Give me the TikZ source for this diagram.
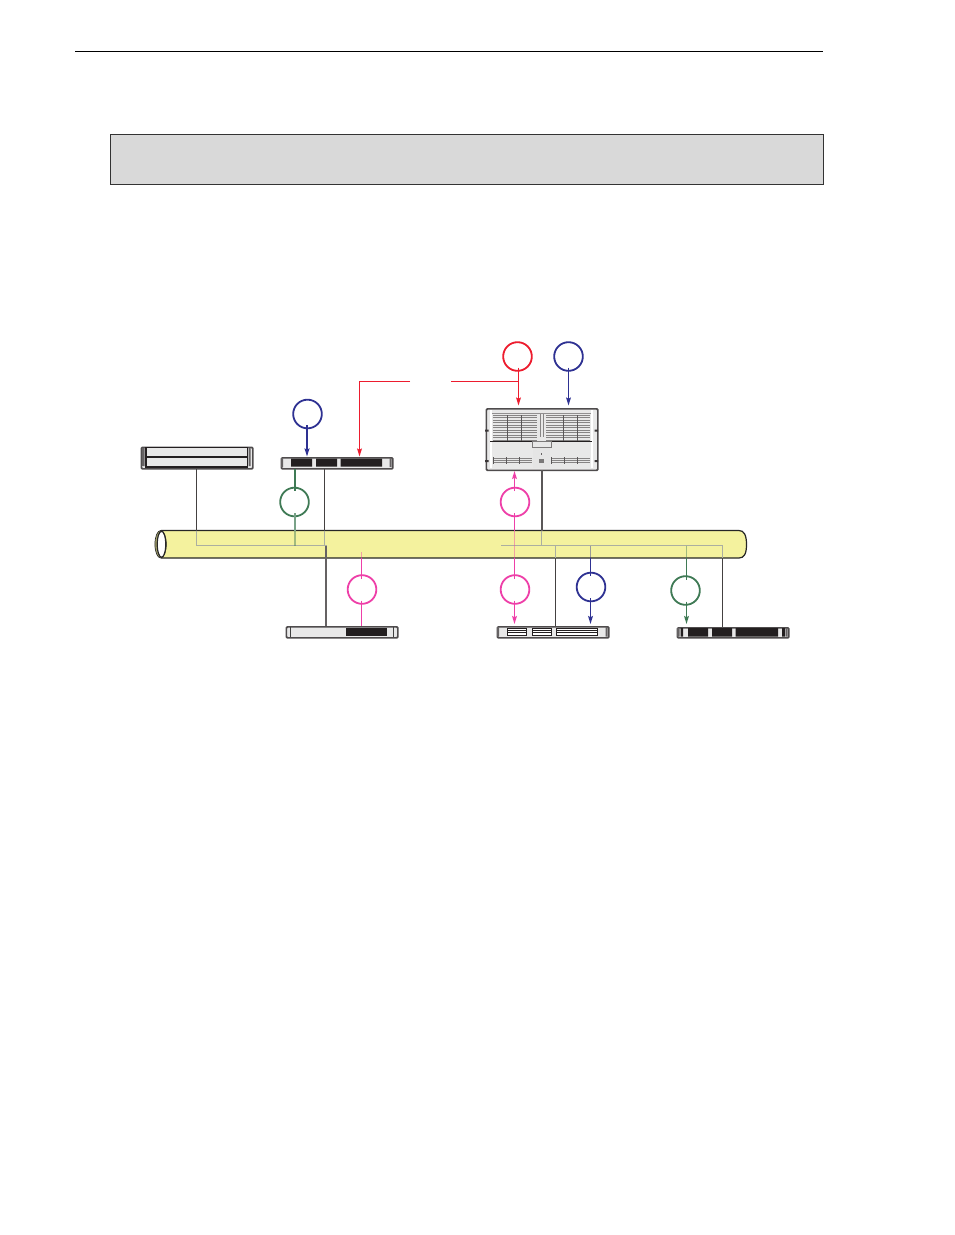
\documentclass[tikz,border=0pt]{standalone}
\usetikzlibrary{arrows.meta,shapes.geometric}
\definecolor{pipeY}{HTML}{F4F29E}
\definecolor{panelG}{HTML}{D9D9D9}
\definecolor{rackG}{HTML}{E8E8E8}
\definecolor{rackD}{HTML}{231F20}
\definecolor{redL}{HTML}{ED1C2E}
\definecolor{blueL}{HTML}{2E3192}
\definecolor{greenL}{HTML}{3F7A55}
\definecolor{pinkL}{HTML}{EE3FA8}
\definecolor{busG}{HTML}{ABAFA0}
\tikzset{
  x=0.75pt,y=-0.75pt,
  circ/.style={draw=#1,circle,line width=1.35pt,minimum size=21.5pt,inner sep=0pt,fill=white},
  wire/.style={draw=#1,line width=0.95pt},
  head/.style={wire=#1,-{Stealth[length=6pt,width=3.6pt,inset=1pt]}},
  rackbody/.style={draw=rackD!80,fill=rackG,line width=1.3pt,rounded corners=0.8pt,rectangle,inner sep=0pt,anchor=north west},
  dk/.style={draw=rackD!85,line width=1.05pt},
  ghost/.style={line width=0.95pt,draw=#1,opacity=0.45},
  bus/.style={draw=busG,line width=1pt},
  block/.style={fill=rackD,draw=none},
  thinline/.style={draw=black!75,line width=0.3pt},
}
\newcommand{\rackbox}[5]{% name x y w h
  \node[rackbody,minimum width=#4*0.75pt,minimum height=#5*0.75pt] (#1) at (#2,#3) {};
}
\begin{document}
\begin{tikzpicture}
\useasboundingbox (0,0) rectangle (954,1235);
\fill[white] (0,0) rectangle (954,1235);
\coordinate (ruleL) at (75,51.5); \coordinate (ruleR) at (823,51.5);
\draw[black,line width=0.6pt] (ruleL) -- (ruleR);
\node[draw=black!80,fill=panelG,line width=0.6pt,minimum width=712.8*0.75pt,minimum height=50*0.75pt,inner sep=0pt,anchor=north west] (panel) at (110,134) {};

% pipe
\path[fill=pipeY,draw=black!85,line width=0.9pt] (161,530.5) -- (739,530.5) .. controls (744,530.5) and (746.5,535) .. (746.5,544.5) .. controls (746.5,554) and (744,558) .. (739,558) -- (161,558);
\node[draw=black!85,fill=pipeY!70!black,ellipse,line width=0.5pt,minimum width=8.5pt,minimum height=20.6pt,inner sep=0pt] (pipeRim) at (160.6,544.25) {};
\node[draw=black!85,fill=white,ellipse,line width=0.9pt,minimum width=6.5pt,minimum height=19.5pt,inner sep=0pt] (pipeEnd) at (161.5,544.25) {};

% devices
\rackbox{rackA}{140.5}{446.5}{111.5}{21.5}
\rackbox{rackB}{280.5}{457}{111.5}{11}
\rackbox{rackC}{285.5}{626}{111.5}{11}
\rackbox{rackD}{496.5}{626}{111.5}{11}
\rackbox{rackE}{676.5}{627}{111.5}{10}
\rackbox{chassis}{485.5}{408}{111.5}{61.5}

% rack A details
\draw[rackD,line width=1.1pt,fill=rackG] (146,447.5) rectangle (247.5,467);
\draw[rackD,line width=1.1pt] (146,457) -- (247.5,457);
\fill[rackD!70] (142,448) rectangle (144.5,466) (248.5,448) rectangle (250.5,466);
% rack B details
\fill[rackD!70] (281,458) rectangle (283,467) (389.5,458) rectangle (391.5,467);
\fill[block] (291,458.5) rectangle (312,466.5) (316,458.5) rectangle (337,466.5) (340.5,458.5) rectangle (382,466.5);
% rack C details
\draw[thinline] (290,626.5) -- (290,636.5);
\fill[block] (346,627.5) rectangle (387,635.5);
\draw[thinline] (393,626.5) -- (393,636.5);
% rack D details
\fill[rackD!70] (497,627) rectangle (499,636.5) (605.5,627) rectangle (607.5,636.5);
\foreach \a/\b in {507/527,532/552,556/598}{
  \fill[rackD] (\a,627.5) rectangle (\b,635.5);
  \foreach \yy in {629.4,631.2,633,634.4}{\draw[white,line width=0.4pt] (\a+1,\yy) -- (\b-1,\yy);}
}
% rack E details
\fill[rackD!70] (677,628) rectangle (679.5,636.5) (785.5,628) rectangle (787.5,636.5);
\fill[block] (680.5,628) rectangle (683,636.5) (688,628) rectangle (708,636.5) (712,628) rectangle (732,636.5) (735.5,628) rectangle (778,636.5) (782,628) rectangle (785,636.5);

% chassis details
\draw[rackD!50,line width=0.4pt] (490,413.5) -- (591.5,413.5);
\foreach \xx in {491,592}{\draw[white,line width=1.2pt] (\xx,410) -- (\xx,468);}
\fill[rackD!90] (485,429.5) rectangle (488.5,431.5) (594.5,429.5) rectangle (598,431.5) (485,460) rectangle (488.5,462) (594.5,460) rectangle (598,462);
\foreach \n in {0,...,10}{
  \draw[rackD!55,line width=0.7pt] (493,{415.5+\n*2.45}) -- (537,{415.5+\n*2.45});
  \draw[rackD!55,line width=0.7pt] (546,{415.5+\n*2.45}) -- (590,{415.5+\n*2.45});
}
\foreach \xx in {507,521,563,577}{\draw[rackD!75,line width=0.6pt] (\xx,415) -- (\xx,441);}
\draw[rackD!55,line width=0.5pt] (540,414) -- (540,437) (543,414) -- (543,437);
\draw[rackD,line width=0.9pt] (490,441.5) -- (592,441.5);
\fill[white!90!black] (533,447) rectangle (550,468);
\draw[rackD!60,fill=rackG,line width=0.5pt] (532,441.5) rectangle (551,447);
\foreach \a/\b in {493/532,551/590}{
  \foreach \yy in {458,460,462}{\draw[rackD!55,line width=0.6pt] (\a,\yy) -- (\b,\yy);}
  \foreach \k in {0,1,2}{\draw[rackD!75,line width=0.5pt] ({\a+\k*13},457) -- ({\a+\k*13},463.5);}
}
\fill[rackD!70] (541,452.5) rectangle (541.7,454.5);
\fill[rackD!60] (539,459) rectangle (544,463);

% circles
\node[circ=redL] (cRed) at (517.5,356.5) {};
\node[circ=blueL] (cBlueA) at (568.5,356.5) {};
\node[circ=blueL] (cBlueB) at (307.5,414) {};
\node[circ=greenL] (cGreenA) at (294.5,502) {};
\node[circ=pinkL] (cPinkA) at (515,502) {};
\node[circ=pinkL] (cPinkB) at (362,589.5) {};
\node[circ=pinkL] (cPinkC) at (515,589.5) {};
\node[circ=blueL] (cBlueC) at (591,587) {};
\node[circ=greenL] (cGreenB) at (685.5,590.5) {};

% named connector points
\coordinate (redKnee) at (518.5,381.5);
\coordinate (redGapR) at (451,381.5);
\coordinate (redGapL) at (410,381.5);
\coordinate (redCorner) at (359.5,381.5);
\coordinate (busL) at (196.5,545.5);
\coordinate (busM) at (327,545.5);
\coordinate (busN) at (501,545.5);
\coordinate (busR) at (723,545.5);

% red / blue upper
\draw[head=redL] (518.5,367.5) -- (518.5,405.5);
\draw[wire=redL] (redKnee) -- (redGapR);
\draw[head=redL] (redGapL) -- (redCorner) -- (359.5,456.5);
\draw[head=blueL] (568.5,367.5) -- (568.5,405.5);
\draw[head=blueL,line width=1.4pt] (307,425) -- (307,456.5);

% buses
\draw[bus] (busL) -- (busM);
\draw[bus] (busN) -- (busR);

% black droppers
\draw[dk] (196.5,468.5) -- (196.5,530.5);
\draw[bus] (196.5,530.5) -- (busL);
\draw[dk] (324.5,468.5) -- (324.5,530.5);
\draw[bus] (324.5,530.5) -- (324.5,545.5);
\draw[draw=rackD!70,line width=1.2pt] (326,545.5) -- (326,626);
\draw[draw=rackD!75,line width=1.2pt] (541.7,470) -- (541.7,530.5);
\draw[bus] (541.5,530.5) -- (541.5,545.5);
\draw[bus] (555.5,545.5) -- (555.5,558);
\draw[dk] (555.5,558) -- (555.5,626);
\draw[bus] (722.5,545.5) -- (722.5,558);
\draw[dk] (722.5,558) -- (722.5,627);

% green
\draw[wire=greenL] (295,468.5) -- (295,491);
\draw[ghost=greenL] (295,530.5) -- (295,545.5);
\draw[wire=greenL!70!white] (295,513) -- (295,530.5);
\draw[ghost=greenL] (686.5,545.5) -- (686.5,558);
\draw[wire=greenL] (686.5,558) -- (686.5,579.5);
\draw[head=greenL] (686.5,601.5) -- (686.5,624);

% pink
\draw[head=pinkL] (514.5,491) -- (514.5,471);
\draw[wire=pinkL] (514.5,513) -- (514.5,530.5);
\draw[ghost=pinkL] (514.5,530.5) -- (514.5,558);
\draw[wire=pinkL] (514.5,558) -- (514.5,578.5);
\draw[head=pinkL] (514.5,600.5) -- (514.5,624);
\draw[ghost=pinkL] (361.5,552) -- (361.5,558);
\draw[wire=pinkL] (361.5,558) -- (361.5,578.5);
\draw[wire=pinkL] (361.5,600.5) -- (361.5,626);

% blue lower
\draw[ghost=blueL] (590.5,545.5) -- (590.5,558);
\draw[wire=blueL] (590.5,558) -- (590.5,576);
\draw[head=blueL] (590.5,598) -- (590.5,624);
\end{tikzpicture}
\end{document}
